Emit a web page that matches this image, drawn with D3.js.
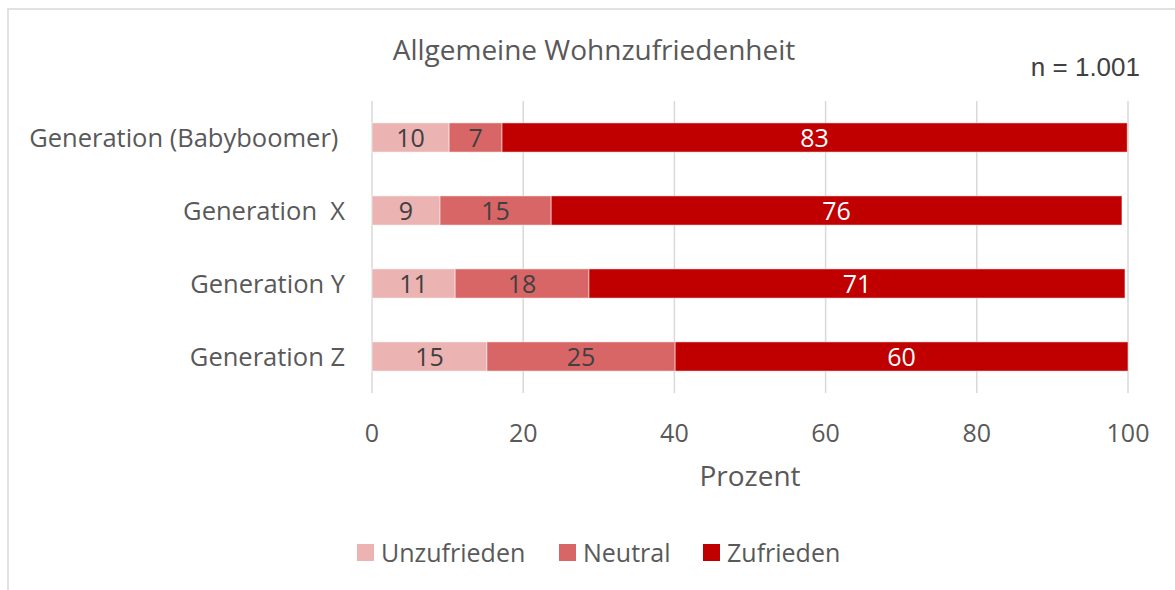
<!DOCTYPE html>
<html>
<head>
<meta charset="utf-8">
<script src="https://cdnjs.cloudflare.com/ajax/libs/d3/7.8.5/d3.min.js"></script>
<style>
	body { margin: 0; background: #fff; }
	svg text { font-family: "Open Sans", "Noto Sans", sans-serif; fill: #595959; white-space: pre; }
</style>
</head>
<body>
<svg width="1175" height="590"></svg>
<script>
var categories = ["Generation (Babyboomer) ", "Generation  X", "Generation Y", "Generation Z"];
var seriesNames = ["Unzufrieden", "Neutral", "Zufrieden"];
var unzufrieden = [10.2, 9.0, 11.0, 15.2];
var neutral = [7.0, 14.7, 17.7, 24.9];
var zufrieden = [82.7, 75.5, 70.9, 59.9];
var xTicks = [0, 20, 40, 60, 80, 100];
var colors = ["#ECB3B3", "#D96666", "#C00000"];

var svg = d3.select("svg");

// frame
svg.append("rect")
	.attr("x", 8).attr("y", 9)
	.attr("width", 1200).attr("height", 700)
	.attr("fill", "none")
	.attr("stroke", "#d9d9d9")
	.attr("stroke-width", 1.5);

var x = d3.scaleLinear().domain([0, 100]).range([372, 1128]);
var y = d3.scaleBand().domain(categories).range([101, 393]).paddingInner(0.6).paddingOuter(0.3);

// gridlines
svg.append("g").selectAll("line")
	.data(xTicks)
	.enter().append("line")
		.attr("x1", function(d) { return x(d); })
		.attr("x2", function(d) { return x(d); })
		.attr("y1", 101).attr("y2", 393)
		.attr("stroke", "#d9d9d9")
		.attr("stroke-width", 1.5);

var rows = categories.map(function(c, i) {
	return { cat: c, Unzufrieden: unzufrieden[i], Neutral: neutral[i], Zufrieden: zufrieden[i] };
});
var stacked = d3.stack().keys(seriesNames)(rows);

var layer = svg.append("g").selectAll("g")
	.data(stacked)
	.enter().append("g");

layer.selectAll("rect")
	.data(function(s, si) { return s.map(function(d) { d.si = si; return d; }); })
	.enter().append("rect")
		.attr("x", function(d) { return x(d[0]); })
		.attr("y", function(d) { return y(d.data.cat); })
		.attr("width", function(d) { return x(d[1]) - x(d[0]); })
		.attr("height", y.bandwidth())
		.attr("fill", function(d) { return colors[d.si]; })
		.attr("stroke", "rgba(255,255,255,0.5)")
		.attr("stroke-width", 1);

layer.selectAll("text")
	.data(function(s) { return s; })
	.enter().append("text")
		.attr("x", function(d) { return (x(d[0]) + x(d[1])) / 2; })
		.attr("y", function(d) { return y(d.data.cat) + y.bandwidth() / 2; })
		.attr("dy", "0.36em")
		.attr("text-anchor", "middle")
		.style("font-size", "25px")
		.style("fill", function(d) { return d.si == 2 ? "#ffffff" : "#404040"; })
		.text(function(d) { return Math.round(d[1] - d[0]); });

// category labels
svg.append("g").selectAll("text")
	.data(categories)
	.enter().append("text")
		.attr("x", 345)
		.attr("y", function(d) { return y(d) + y.bandwidth() / 2; })
		.attr("dy", "0.36em")
		.attr("text-anchor", "end")
		.style("font-size", "25.5px")
		.text(function(d) { return d; });

// x axis labels
svg.append("g").selectAll("text")
	.data(xTicks)
	.enter().append("text")
		.attr("x", function(d) { return x(d); })
		.attr("y", 433)
		.attr("dy", "0.36em")
		.attr("text-anchor", "middle")
		.style("font-size", "25px")
		.text(function(d) { return d; });

svg.append("text")
	.attr("x", 750).attr("y", 476).attr("dy", "0.36em")
	.attr("text-anchor", "middle")
	.style("font-size", "28px")
	.text("Prozent");

svg.append("text")
	.attr("x", 594).attr("y", 50).attr("dy", "0.36em")
	.attr("text-anchor", "middle")
	.style("font-size", "28px")
	.text("Allgemeine Wohnzufriedenheit");

svg.append("text")
	.attr("x", 1140).attr("y", 67).attr("dy", "0.36em")
	.attr("text-anchor", "end")
	.style("font-family", "'Liberation Sans', Arial, sans-serif")
	.style("fill", "#404040")
	.style("font-size", "26px")
	.text("n = 1.001");

// legend
var legendX = [357, 559, 703];
var legend = svg.append("g").selectAll("g")
	.data(seriesNames)
	.enter().append("g")
		.attr("transform", function(d, i) { return "translate(" + legendX[i] + ",544)"; });
legend.append("rect")
	.attr("width", 17).attr("height", 17)
	.attr("fill", function(d, i) { return colors[i]; });
legend.append("text")
	.attr("x", 24).attr("y", 8.5).attr("dy", "0.36em")
	.style("font-size", "25px")
	.text(function(d) { return d; });
</script>
</body>
</html>
